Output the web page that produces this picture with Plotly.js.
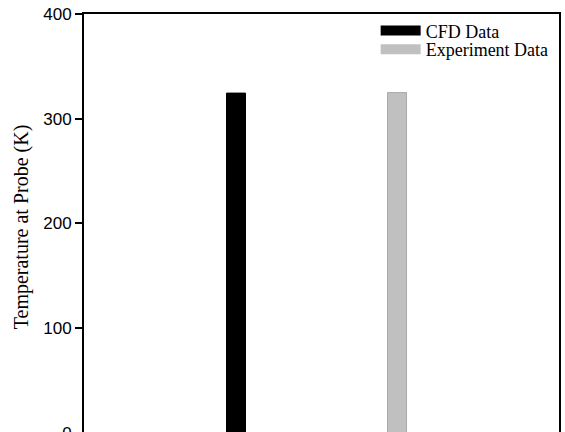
<!DOCTYPE html>
<html>
<head>
<meta charset="utf-8">
<script src="https://cdn.plot.ly/plotly-3.0.1.min.js"></script>
<style>
html, body { margin: 0; padding: 0; overflow: hidden; background: #fff; }
#chart { width: 565px; height: 450px; }
</style>
</head>
<body>
<div id="chart"></div>
<script>
// Data
var categories = ["CFD Data", "Experiment Data"];
var temperatures = [324.5, 325.0];
var seriesNames = ["CFD Data", "Experiment Data"];
var yTickValues = [0, 100, 200, 300, 400];
var yTickLabels = ["0", "100", "200", "300", "400"];

var fills = ["#000000", "#c0c0c0"];
var edges = ["#000000", "#a9a9a9"];
var legendIds = ["legend", "legend2"];

var traces = [];
for (var i = 0; i < categories.length; i++) {
  traces.push({
    type: "bar",
    x: [categories[i]],
    y: [temperatures[i]],
    width: 0.118,
    marker: { color: fills[i], line: { color: edges[i], width: 1 } },
    showlegend: false,
    hoverinfo: "y"
  });
}
// legend entries drawn as thick line swatches
for (var j = 0; j < seriesNames.length; j++) {
  traces.push({
    type: "scatter",
    mode: "lines",
    x: [null],
    y: [null],
    name: seriesNames[j],
    legend: legendIds[j],
    line: { color: fills[j], width: 10 },
    showlegend: true
  });
}

var legendFont = { family: "Liberation Serif, Times New Roman, serif", size: 18, color: "#000" };

var layout = {
  width: 565,
  height: 450,
  margin: { l: 84, r: 6, t: 14, b: 10, pad: 0 },
  paper_bgcolor: "#ffffff",
  plot_bgcolor: "#ffffff",
  barmode: "overlay",
  showlegend: true,
  legend: {
    x: 0.614, y: 1.004, xanchor: "left", yanchor: "top",
    bgcolor: "rgba(0,0,0,0)", itemwidth: 40,
    font: legendFont
  },
  legend2: {
    x: 0.614, y: 0.960, xanchor: "left", yanchor: "top",
    bgcolor: "rgba(0,0,0,0)", itemwidth: 40,
    font: legendFont
  },
  xaxis: {
    type: "category",
    categoryorder: "array",
    categoryarray: categories,
    range: [-0.944, 2.006],
    showticklabels: false,
    ticks: "",
    showgrid: false,
    zeroline: false,
    showline: true,
    linecolor: "#000",
    linewidth: 2,
    mirror: true
  },
  yaxis: {
    range: [-6.7, 400],
    tickmode: "array",
    tickvals: yTickValues,
    ticktext: yTickLabels,
    ticks: "outside",
    ticklen: 7,
    tickwidth: 2,
    tickcolor: "#000",
    showgrid: false,
    zeroline: false,
    showline: true,
    linecolor: "#000",
    linewidth: 2,
    mirror: true,
    tickfont: { family: "Liberation Sans, Arial, sans-serif", size: 17, color: "#000" },
    title: {
      text: "Temperature at Probe (K)",
      font: { family: "Liberation Serif, Times New Roman, serif", size: 20, color: "#000" },
      standoff: 9
    }
  }
};

Plotly.newPlot("chart", traces, layout, { displayModeBar: false, staticPlot: true });
</script>
</body>
</html>
